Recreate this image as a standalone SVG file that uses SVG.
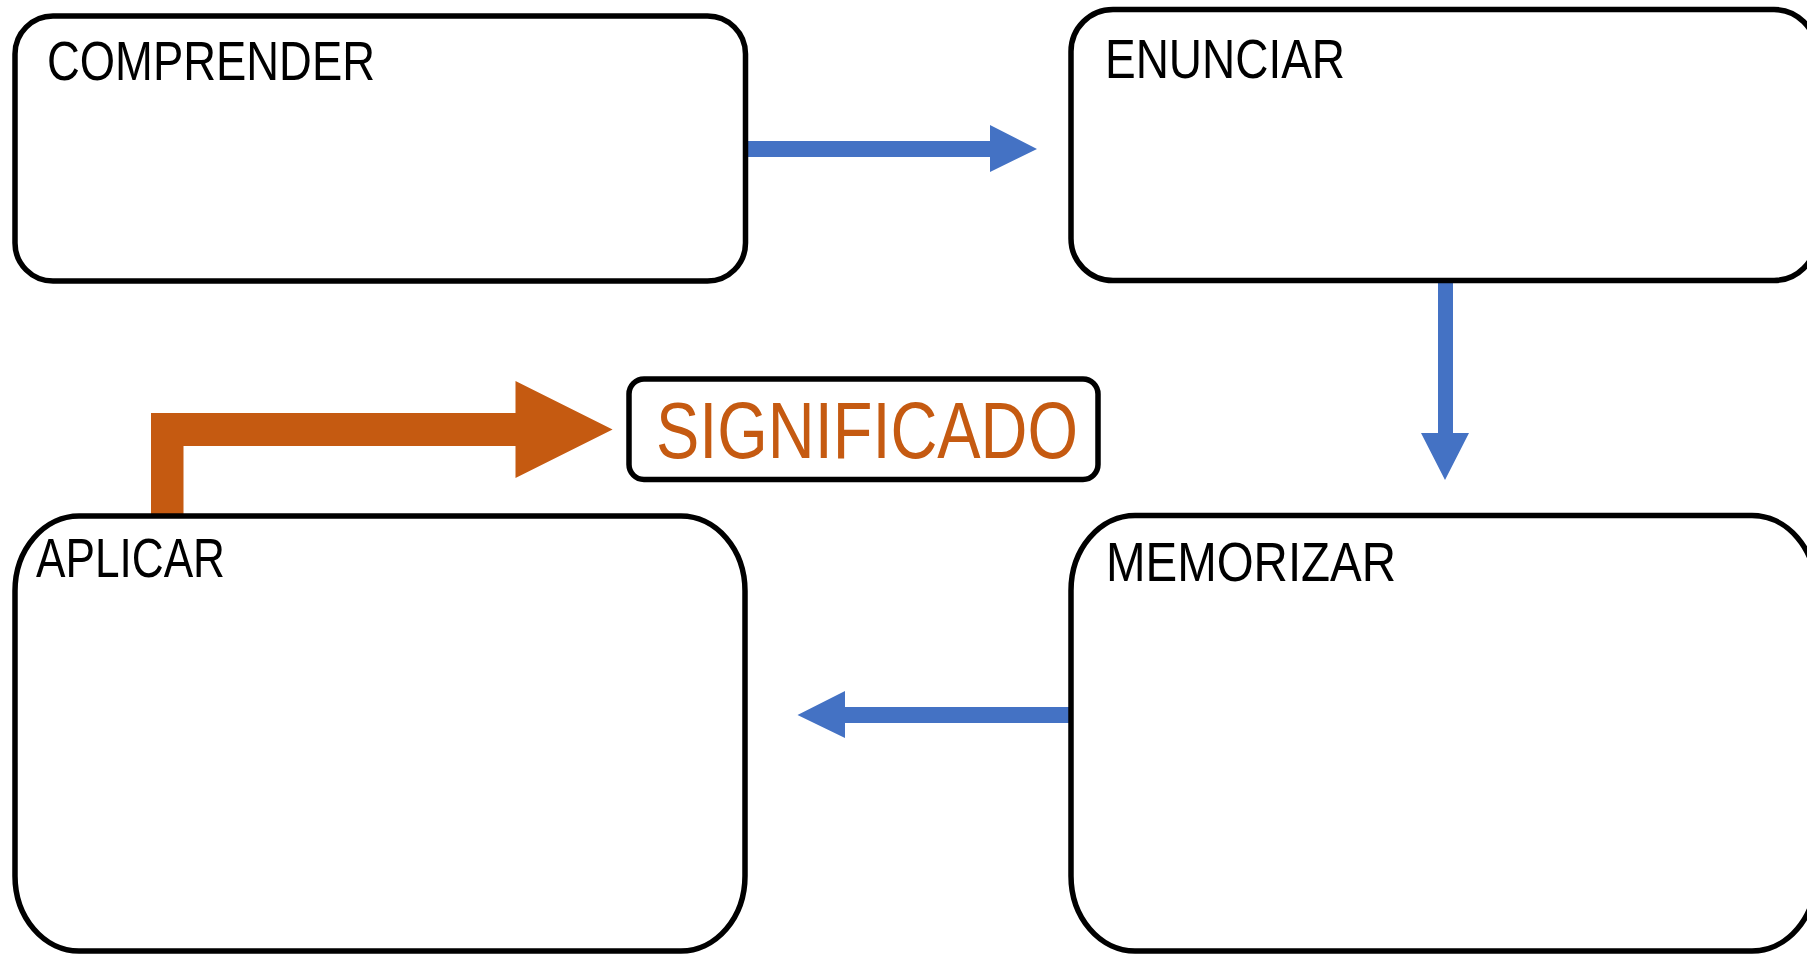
<svg xmlns="http://www.w3.org/2000/svg" width="1807" height="954" viewBox="0 0 1807 954">
<style>
.box{fill:#ffffff;stroke:#000000;stroke-width:5.5}
.lbl{font-family:"Liberation Sans Narrow","Liberation Sans",Arial,sans-serif;font-size:55px;fill:#000000}
.sig{font-family:"Liberation Sans Narrow","Liberation Sans",Arial,sans-serif;font-size:80px;fill:#C55A11}
.blue{fill:#4472C4}
.orange{fill:#C55A11}
</style>
<rect width="1807" height="954" fill="#ffffff"/>
<g id="connectors">
<polygon class="blue" points="748,141 990,141 990,125 1037,149 990,172 990,157 748,157"/>
<polygon class="blue" points="1438,283 1453,283 1453,433 1469,433 1445,480 1421,433 1438,433"/>
<polygon class="blue" points="1069,707 845,707 845,691 797.5,715 845,738 845,723 1069,723"/>
<polygon class="orange" points="151,514 151,413 515.5,413 515.5,381 612.6,429.5 515.5,478 515.5,446 183.5,446 183.5,514"/>
</g>
<g id="node-comprender">
<rect class="box" x="15" y="16" width="730.5" height="265" rx="38" ry="38"/>
<text class="lbl" x="47" y="80" textLength="328" lengthAdjust="spacingAndGlyphs">COMPRENDER</text>
</g>
<g id="node-enunciar">
<rect class="box" x="1071" y="9.5" width="745" height="271" rx="42" ry="42"/>
<text class="lbl" x="1105" y="78" textLength="240" lengthAdjust="spacingAndGlyphs">ENUNCIAR</text>
</g>
<g id="node-memorizar">
<rect class="box" x="1071" y="515.5" width="745" height="435.5" rx="64" ry="75"/>
<text class="lbl" x="1106" y="581" textLength="290" lengthAdjust="spacingAndGlyphs">MEMORIZAR</text>
</g>
<g id="node-aplicar">
<rect class="box" x="15" y="516" width="730" height="435" rx="64" ry="75"/>
<text class="lbl" x="36" y="577" textLength="189" lengthAdjust="spacingAndGlyphs">APLICAR</text>
</g>
<g id="node-significado">
<rect class="box" x="629" y="379" width="469" height="100.5" rx="15" ry="15"/>
<text class="sig" x="656" y="458" textLength="422" lengthAdjust="spacingAndGlyphs">SIGNIFICADO</text>
</g>
</svg>
